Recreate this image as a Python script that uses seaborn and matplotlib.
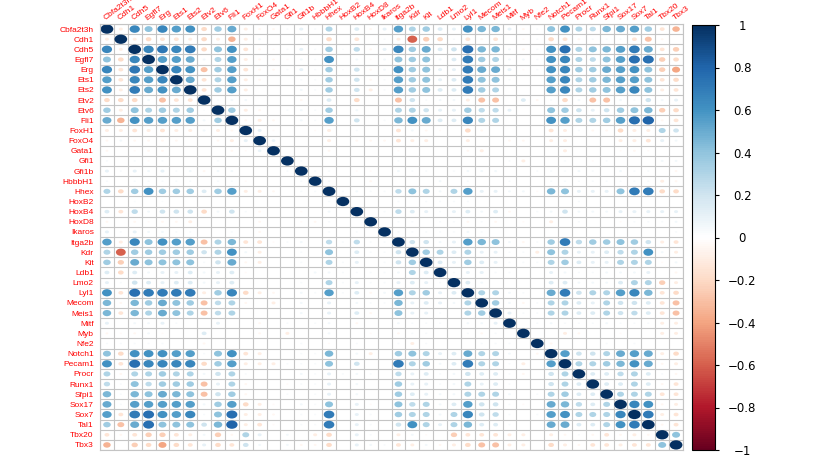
"""Circle-style correlation matrix of haematopoietic/endothelial genes."""
import matplotlib

matplotlib.use("Agg")
import matplotlib.pyplot as plt
import numpy as np
import pandas as pd
import seaborn as sns
from matplotlib.cm import ScalarMappable
from matplotlib.colors import LinearSegmentedColormap, Normalize
from matplotlib.path import Path
from matplotlib.transforms import Affine2D

genes = [
    "Cbfa2t3h", "Cdh1", "Cdh5", "Egfl7", "Erg", "Ets1", "Ets2", "Etv2", "Etv6",
    "Fli1", "FoxH1", "FoxO4", "Gata1", "Gfi1", "Gfi1b", "HbbbH1", "Hhex",
    "HoxB2", "HoxB4", "HoxD8", "Ikaros", "Itga2b", "Kdr", "Kit", "Ldb1", "Lmo2",
    "Lyl1", "Mecom", "Meis1", "Mitf", "Myb", "Nfe2", "Notch1", "Pecam1",
    "Procr", "Runx1", "Sfpi1", "Sox17", "Sox7", "Tal1", "Tbx20", "Tbx3",
]

# lower triangle: row i holds r(genes[i], genes[j]) for j < i
lower_rows = [
    [],
    [-0.10],
    [0.65, -0.10],
    [0.40, -0.20, 0.65],
    [0.65, -0.15, 0.72, 0.55],
    [0.55, -0.15, 0.65, 0.55, 0.65],
    [0.60, -0.10, 0.70, 0.50, 0.60, 0.50],
    [-0.20, -0.20, -0.20, 0.05, -0.30, -0.15, -0.15],
    [0.35, -0.10, 0.40, 0.30, 0.35, 0.30, 0.35, 0.02],
    [0.50, -0.35, 0.60, 0.55, 0.55, 0.55, 0.55, 0.05, 0.35],
    [-0.10, -0.10, -0.15, -0.10, -0.15, -0.10, -0.10, 0.05, -0.10, -0.05],
    [-0.05, 0.05, -0.05, -0.05, -0.05, -0.05, 0.00, 0.00, -0.05, -0.10, 0.10],
    [-0.05, 0.00, -0.03, -0.05, -0.05, 0.00, 0.00, 0.00, 0.00, -0.05, -0.03, 0.08],
    [0.03, 0.00, 0.03, -0.03, 0.03, 0.00, 0.00, 0.00, 0.03, 0.00, 0.00, 0.00, 0.00],
    [0.10, 0.03, 0.10, 0.05, 0.10, 0.03, 0.05, -0.05, 0.05, 0.05, 0.00, 0.00, 0.00,
     0.03],
    [0.03, 0.00, 0.03, 0.03, 0.03, 0.03, 0.03, 0.00, 0.03, 0.03, -0.03, 0.00, 0.00,
     0.00, 0.03],
    [0.30, -0.20, 0.35, 0.60, 0.35, 0.35, 0.35, 0.15, 0.35, 0.55, -0.10, -0.10,
     -0.05, 0.00, 0.03, 0.03],
    [0.00, 0.00, 0.02, 0.00, 0.02, 0.00, 0.00, 0.00, 0.00, 0.00, 0.00, 0.00, 0.00,
     0.00, 0.00, 0.00, 0.03],
    [0.15, -0.15, 0.25, 0.05, 0.20, 0.20, 0.20, -0.20, 0.05, 0.20, 0.03, -0.05,
     0.00, 0.00, -0.03, 0.00, 0.05, 0.00],
    [-0.05, 0.00, -0.05, -0.03, -0.05, -0.05, -0.10, 0.00, 0.00, 0.00, 0.00, -0.05,
     0.00, 0.00, -0.03, -0.05, 0.03, 0.00, 0.00],
    [0.10, 0.03, 0.10, 0.05, 0.05, 0.03, 0.03, 0.00, 0.00, 0.03, 0.00, -0.05, 0.00,
     0.00, 0.00, 0.00, 0.03, 0.00, 0.03, 0.00],
    [0.55, -0.10, 0.65, 0.40, 0.60, 0.55, 0.55, -0.30, 0.30, 0.45, -0.15, -0.15,
     -0.03, 0.03, 0.05, 0.00, 0.25, 0.03, 0.25, 0.03, 0.03],
    [0.30, -0.60, 0.35, 0.35, 0.35, 0.35, 0.35, 0.20, 0.30, 0.60, 0.05, -0.10, 0.00,
     0.00, 0.03, 0.00, 0.40, 0.00, 0.15, 0.03, 0.03, 0.20],
    [0.35, -0.25, 0.50, 0.40, 0.40, 0.40, 0.40, 0.03, 0.20, 0.50, -0.05, -0.10,
     0.00, 0.00, 0.03, 0.00, 0.30, 0.03, 0.10, 0.00, 0.03, 0.20, 0.35],
    [0.15, -0.20, 0.15, 0.05, 0.10, 0.10, 0.15, 0.05, 0.10, 0.15, -0.03, 0.00, 0.00,
     0.00, 0.00, 0.05, 0.05, 0.03, 0.03, 0.03, 0.03, 0.05, 0.30, 0.15],
    [0.10, 0.03, 0.20, 0.15, 0.10, 0.15, 0.15, 0.05, 0.10, 0.15, 0.00, 0.00, 0.00,
     0.00, 0.03, 0.00, 0.30, 0.03, 0.10, 0.03, 0.03, 0.10, 0.15, 0.10, 0.03],
    [0.60, -0.15, 0.75, 0.70, 0.70, 0.70, 0.70, -0.10, 0.35, 0.65, -0.20, -0.10,
     -0.05, 0.00, 0.05, 0.03, 0.55, 0.03, 0.15, -0.05, 0.05, 0.55, 0.30, 0.35, 0.10,
     0.15],
    [0.45, -0.05, 0.45, 0.35, 0.50, 0.40, 0.35, -0.30, 0.25, 0.30, -0.05, 0.00,
     -0.10, 0.00, 0.05, 0.00, 0.10, 0.00, 0.05, 0.03, 0.03, 0.45, 0.10, 0.15, 0.10,
     0.05, 0.30],
    [0.45, -0.15, 0.45, 0.30, 0.50, 0.40, 0.30, -0.30, 0.25, 0.30, 0.00, 0.00, 0.00,
     0.00, 0.05, 0.00, 0.10, 0.00, 0.15, -0.05, 0.00, 0.40, 0.10, 0.10, 0.03, 0.00,
     0.30, 0.35],
    [0.10, 0.00, 0.05, 0.05, 0.10, 0.03, 0.00, 0.00, 0.10, 0.00, 0.00, -0.05, 0.00,
     0.03, 0.00, 0.03, 0.05, 0.00, -0.05, 0.00, 0.00, 0.05, 0.03, 0.03, 0.03, 0.00,
     0.05, 0.05, 0.10],
    [-0.05, -0.03, -0.05, 0.05, -0.03, 0.00, 0.00, 0.15, 0.00, 0.00, 0.00, -0.05,
     0.00, -0.10, 0.00, 0.00, 0.05, 0.00, 0.00, -0.03, 0.00, -0.05, 0.03, 0.03, 0.00,
     0.00, 0.03, -0.05, 0.03, 0.00],
    [0.03, 0.03, 0.03, 0.03, 0.03, 0.00, 0.00, -0.05, 0.00, 0.00, 0.00, 0.00, 0.00,
     0.00, 0.03, 0.00, -0.03, 0.00, 0.03, 0.00, 0.00, 0.03, -0.10, 0.03, 0.00, 0.00,
     0.00, 0.03, 0.03, 0.03, 0.00],
    [0.40, -0.20, 0.60, 0.60, 0.60, 0.55, 0.55, 0.03, 0.40, 0.60, -0.15, -0.10, 0.00,
     0.00, 0.03, 0.03, 0.45, 0.00, 0.05, -0.10, 0.00, 0.35, 0.40, 0.30, 0.10, 0.15,
     0.50, 0.30, 0.30, 0.05, 0.00, -0.05],
    [0.60, -0.15, 0.75, 0.65, 0.65, 0.65, 0.65, -0.20, 0.35, 0.55, -0.10, -0.10,
     -0.10, 0.03, 0.03, 0.03, 0.40, 0.00, 0.20, 0.00, 0.00, 0.70, 0.30, 0.35, 0.05,
     0.15, 0.70, 0.30, 0.30, 0.03, -0.10, 0.00, 0.55],
    [0.30, -0.05, 0.30, 0.30, 0.35, 0.30, 0.30, 0.05, 0.20, 0.30, 0.03, 0.00, 0.00,
     0.00, 0.05, 0.03, 0.10, 0.03, 0.05, 0.03, 0.00, 0.25, 0.10, 0.15, 0.03, 0.05,
     0.20, 0.15, 0.15, 0.03, -0.05, 0.00, 0.20, 0.30],
    [0.25, 0.03, 0.40, 0.25, 0.35, 0.35, 0.35, -0.30, 0.10, 0.30, -0.05, 0.00, 0.00,
     -0.03, 0.03, 0.03, 0.10, 0.00, 0.05, 0.00, 0.00, 0.35, 0.10, 0.10, 0.03, 0.05,
     0.30, 0.10, 0.15, 0.03, 0.00, 0.00, 0.20, 0.30, 0.15],
    [0.45, 0.03, 0.45, 0.40, 0.50, 0.45, 0.40, -0.30, 0.20, 0.35, -0.05, 0.00, 0.00,
     0.03, 0.00, 0.03, 0.10, 0.00, 0.05, 0.00, 0.00, 0.35, 0.15, 0.10, 0.05, 0.05,
     0.30, 0.30, 0.30, 0.05, 0.00, 0.03, 0.30, 0.35, 0.15, 0.15],
    [0.50, 0.03, 0.55, 0.55, 0.55, 0.55, 0.55, 0.05, 0.35, 0.55, -0.20, -0.10, -0.03,
     0.00, 0.05, 0.03, 0.40, 0.00, 0.10, -0.03, 0.00, 0.40, 0.25, 0.30, 0.05, 0.15,
     0.55, 0.20, 0.20, 0.03, -0.03, 0.00, 0.50, 0.45, 0.25, 0.15, 0.30],
    [0.55, -0.15, 0.70, 0.75, 0.60, 0.55, 0.65, 0.03, 0.40, 0.75, -0.10, -0.10, -0.05,
     0.00, 0.03, 0.03, 0.70, 0.00, 0.10, 0.03, 0.00, 0.35, 0.30, 0.30, 0.05, 0.30,
     0.65, 0.20, 0.25, 0.03, 0.00, 0.03, 0.55, 0.60, 0.30, 0.30, 0.30, 0.65],
    [0.35, -0.30, 0.50, 0.75, 0.40, 0.40, 0.40, 0.20, 0.45, 0.80, -0.10, -0.15, -0.03,
     0.00, 0.03, 0.03, 0.70, 0.00, 0.10, 0.03, 0.00, 0.20, 0.60, 0.30, 0.10, 0.30,
     0.45, 0.15, 0.15, 0.03, 0.00, 0.00, 0.50, 0.50, 0.15, 0.15, 0.30, 0.60, 0.70],
    [-0.15, -0.05, -0.15, -0.25, -0.25, -0.15, -0.10, 0.05, -0.25, -0.05, 0.30, 0.10,
     0.00, 0.05, 0.00, -0.10, -0.20, 0.00, 0.10, 0.03, 0.00, -0.10, 0.05, -0.03, 0.00,
     -0.25, -0.15, -0.15, -0.15, -0.10, -0.10, 0.00, -0.10, -0.05, 0.03, -0.05, -0.15,
     -0.05, -0.10, -0.05],
    [-0.35, 0.00, -0.25, -0.20, -0.40, -0.20, -0.15, 0.10, -0.20, -0.15, 0.20, 0.05,
     0.00, 0.05, -0.05, -0.05, -0.20, 0.00, 0.10, 0.05, 0.03, -0.15, -0.10, 0.05,
     -0.05, -0.10, -0.20, -0.30, -0.30, -0.10, -0.10, 0.00, -0.20, -0.10, -0.05,
     -0.15, -0.15, -0.10, -0.15, -0.15, 0.40],
]

cbar_ticks = [1, 0.8, 0.6, 0.4, 0.2, 0, -0.2, -0.4, -0.6, -0.8, -1]

# corrplot's RdBu ramp (white in the middle)
ramp_colors = [
    "#67001F", "#B2182B", "#D6604D", "#F4A582", "#FDDBC7", "#FFFFFF",
    "#D1E5F0", "#92C5DE", "#4393C3", "#2166AC", "#053061",
]
cmap = LinearSegmentedColormap.from_list("corr_rdbu", ramp_colors, N=200)

# Build the symmetric matrix and reshape it for seaborn
n = len(genes)
corr = np.eye(n)
for i, row in enumerate(lower_rows):
    for j, v in enumerate(row):
        corr[i, j] = corr[j, i] = v

df = pd.DataFrame(
    [(i, j, corr[i, j]) for i in range(n) for j in range(n)],
    columns=["row", "col", "r"],
)
df["abs_r"] = df["r"].abs()

# Cells are wider than tall, so use an oval marker
oval = Affine2D().scale(1.0, 0.73).transform_path(Path.unit_circle())

sns.set_theme(style="white")
label_font = ["Liberation Sans Narrow", "Liberation Sans", "DejaVu Sans"]
plt.rcParams["font.family"] = label_font

fig = plt.figure(figsize=(8.3, 4.57), dpi=100)
ax = fig.add_axes([100 / 830, 7 / 457, 583 / 830, 426 / 457])

sns.scatterplot(
    data=df,
    x="col",
    y="row",
    hue="r",
    palette=cmap,
    hue_norm=(-1, 1),
    size="abs_r",
    sizes=(0, 84),
    size_norm=(0, 1),
    marker=oval,
    linewidth=0,
    legend=False,
    ax=ax,
)

ax.set_xlim(-0.5, n - 0.5)
ax.set_ylim(n - 0.5, -0.5)
ax.set_xlabel("")
ax.set_ylabel("")

# Gene labels
ax.xaxis.tick_top()
ax.set_xticks(range(n))
ax.set_xticklabels(genes, rotation=37, ha="left", va="bottom",
                   rotation_mode="anchor", color="red", fontsize=6)
ax.set_yticks(range(n))
ax.set_yticklabels(genes, color="red", fontsize=6)
ax.tick_params(axis="x", which="both", length=0, pad=1.5)
ax.tick_params(axis="y", which="both", length=0, pad=4.5)

# Cell grid
ax.set_xticks(np.arange(n + 1) - 0.5, minor=True)
ax.set_yticks(np.arange(n + 1) - 0.5, minor=True)
ax.grid(which="minor", color="#c4c4c4", linewidth=0.8)
ax.grid(which="major", visible=False)
ax.set_axisbelow(True)
for spine in ax.spines.values():
    spine.set_color("#c4c4c4")
    spine.set_linewidth(0.8)

# Colour legend
cax = fig.add_axes([692 / 830, 7 / 457, 23 / 830, 425 / 457])
cb = fig.colorbar(ScalarMappable(norm=Normalize(-1, 1), cmap=cmap),
                  cax=cax, ticks=cbar_ticks)
cb.ax.set_yticklabels([f"{t:g}".replace("-", "\u2212") for t in cbar_ticks],
                      fontsize=8.5, family="DejaVu Sans", ha="center")
cb.ax.tick_params(length=3, width=0.8, pad=16.5, colors="black")
cb.outline.set_edgecolor("black")
cb.outline.set_linewidth(0.8)

fig.savefig("out.png", dpi=100)
plt.close(fig)
